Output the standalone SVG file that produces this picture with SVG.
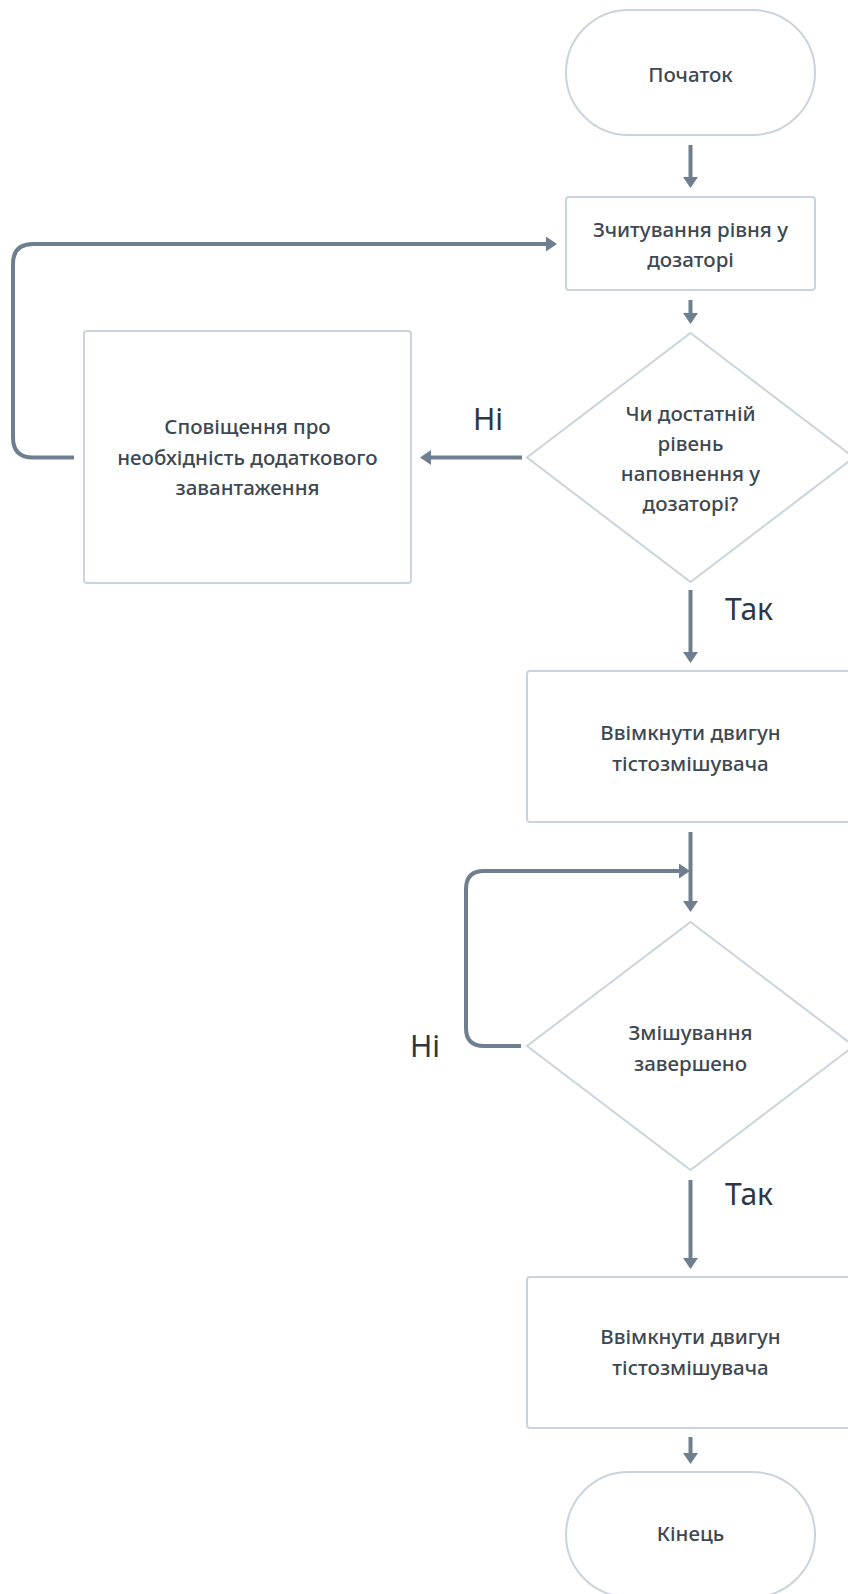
<svg xmlns="http://www.w3.org/2000/svg" width="848" height="1594" viewBox="0 0 848 1594">
  <style>
    .shape { fill: #ffffff; stroke: #c9d4de; stroke-width: 2; }
    .txt { font-family: "Noto Sans", "Liberation Sans", sans-serif; font-size: 20.5px; font-weight: 500; fill: #3d4852; text-anchor: middle; }
    .lbl { font-family: "Noto Sans", "Liberation Sans", sans-serif; font-size: 30px; fill: #2b3743; text-anchor: middle; }
    .conn { fill: none; stroke: #6e7f8f; stroke-width: 4; stroke-linejoin: round; marker-end: url(#arrow); }
  </style>
  <defs>
    <marker id="arrow" markerUnits="userSpaceOnUse" markerWidth="12" markerHeight="16" refX="1" refY="7.5" orient="auto">
      <path d="M0,0 L11,7.5 L0,15 Z" fill="#6e7f8f"/>
    </marker>
  </defs>
  <rect width="848" height="1594" fill="#ffffff"/>

  <g id="start">
    <rect class="shape" x="566" y="10" width="249" height="125" rx="62.5"/>
    <text class="txt" x="690.5" y="82">Початок</text>
  </g>

  <g id="read-level">
    <rect class="shape" x="566" y="197" width="249" height="93" rx="3"/>
    <text class="txt" x="690.5" y="237">Зчитування рівня у</text>
    <text class="txt" x="690.5" y="267">дозаторі</text>
  </g>

  <g id="check-level">
    <polygon class="shape" points="690.5,333 854,457.5 690.5,582 527,457.5"/>
    <text class="txt" x="690.5" y="421">Чи достатній</text>
    <text class="txt" x="690.5" y="451">рівень</text>
    <text class="txt" x="690.5" y="481">наповнення у</text>
    <text class="txt" x="690.5" y="511">дозаторі?</text>
  </g>

  <g id="notify">
    <rect class="shape" x="84" y="331" width="327" height="252" rx="3"/>
    <text class="txt" x="247.5" y="434">Сповіщення про</text>
    <text class="txt" x="247.5" y="464.5">необхідність додаткового</text>
    <text class="txt" x="247.5" y="495">завантаження</text>
  </g>

  <g id="motor-on-1">
    <rect class="shape" x="527" y="671" width="327" height="151" rx="3"/>
    <text class="txt" x="690.5" y="740">Ввімкнути двигун</text>
    <text class="txt" x="690.5" y="771">тістозмішувача</text>
  </g>

  <g id="mixing-done">
    <polygon class="shape" points="690.5,922 854,1046 690.5,1170 527,1046"/>
    <text class="txt" x="690.5" y="1040">Змішування</text>
    <text class="txt" x="690.5" y="1071">завершено</text>
  </g>

  <g id="motor-on-2">
    <rect class="shape" x="527" y="1277" width="327" height="151" rx="3"/>
    <text class="txt" x="690.5" y="1344">Ввімкнути двигун</text>
    <text class="txt" x="690.5" y="1375">тістозмішувача</text>
  </g>

  <g id="end">
    <rect class="shape" x="566" y="1472" width="249" height="125" rx="62.5"/>
    <text class="txt" x="690.5" y="1541">Кінець</text>
  </g>

  <g id="connectors">
    <path class="conn" d="M690.5,145 V178"/>
    <path class="conn" d="M690.5,300 V314"/>
    <path class="conn" d="M522,457.5 H430"/>
    <path class="conn" d="M74,457.5 H33 Q13,457.5 13,437.5 V264 Q13,244 33,244 H547"/>
    <path class="conn" d="M690.5,590 V653"/>
    <path class="conn" d="M690.5,832 V902"/>
    <path class="conn" d="M521,1046 H484 Q466,1046 466,1028 V889 Q466,871 484,871 H680"/>
    <path class="conn" d="M690.5,1180 V1259"/>
    <path class="conn" d="M690.5,1437 V1454"/>
  </g>

  <g id="labels">
    <text class="lbl" x="488" y="430">Ні</text>
    <text class="lbl" x="749" y="620">Так</text>
    <text class="lbl" x="425" y="1057">Ні</text>
    <text class="lbl" x="749" y="1205">Так</text>
  </g>
</svg>
